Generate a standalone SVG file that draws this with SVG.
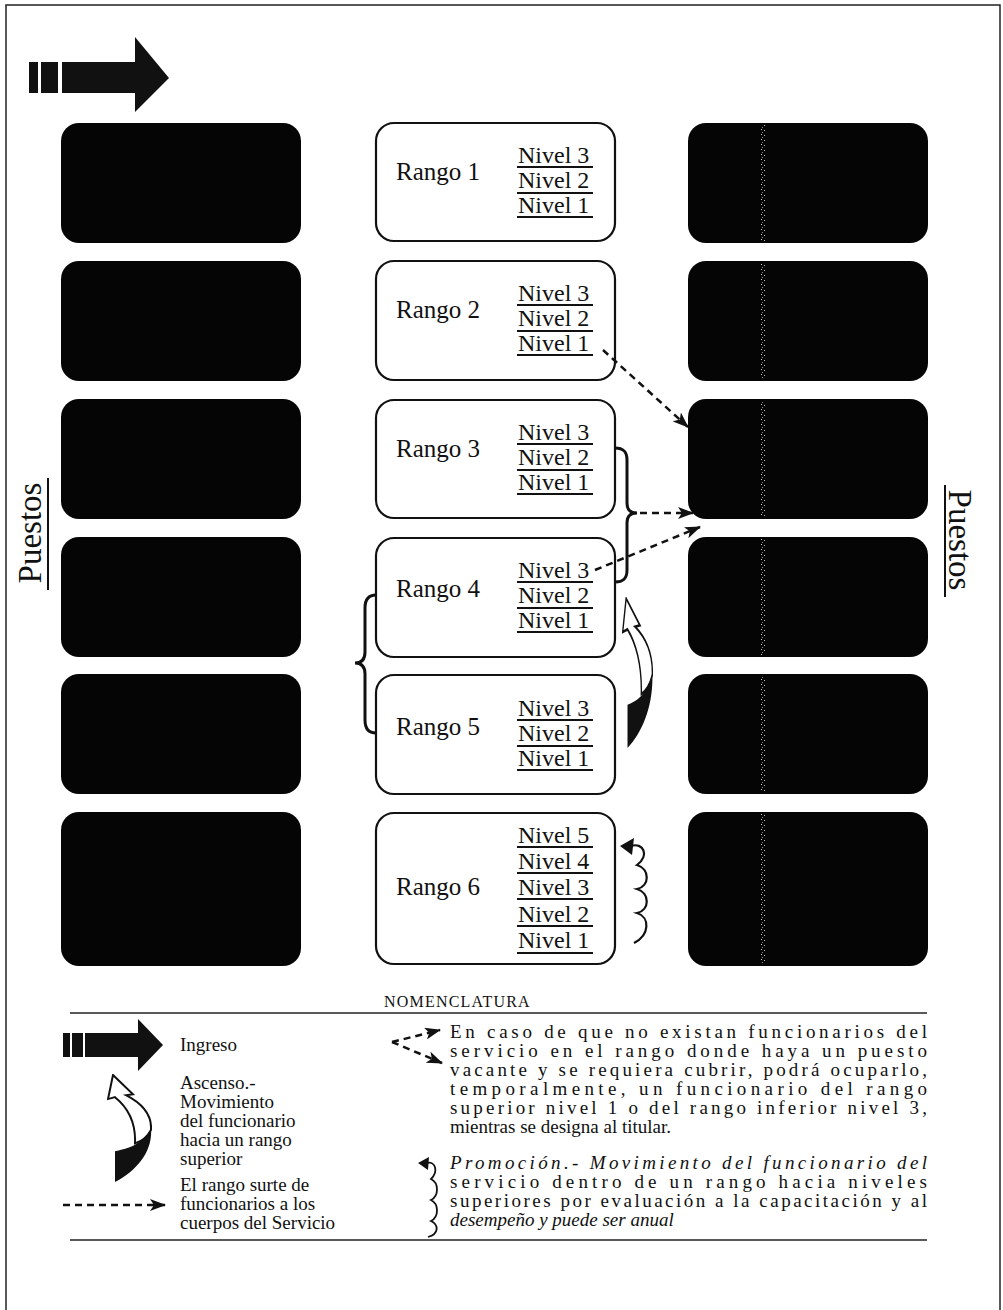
<svg xmlns="http://www.w3.org/2000/svg" width="1003" height="1310" viewBox="0 0 1003 1310">
<defs>
<style>
.t{font-family:"Liberation Serif","Times New Roman",serif;fill:#111}
.rg{font-size:25px}
.nv{font-size:24px}
.lg{font-size:19px}
.ul{stroke:#111;stroke-width:2}
.wb{fill:#fff;stroke:#111;stroke-width:2.2}
.bb{fill:#050505}
.dash{fill:none;stroke:#111;stroke-width:2.5;stroke-dasharray:7 5}
.br{fill:none;stroke:#111;stroke-width:3}
</style>
<pattern id="grain" width="4" height="5" patternUnits="userSpaceOnUse">
<rect x="0" y="0" width="1" height="1" fill="#bbb"/><rect x="2" y="2" width="1" height="1" fill="#888"/><rect x="1" y="4" width="1" height="1" fill="#ccc"/>
</pattern>
<marker id="ah" markerWidth="16" markerHeight="12" refX="15" refY="6" orient="auto" markerUnits="userSpaceOnUse">
<path d="M0,0 L16,6 L0,12 L4,6 Z" fill="#111"/>
</marker>
<symbol id="asc" viewBox="0 0 45 112" preserveAspectRatio="none">
<path d="M6 1 L26 21 L19 22 C34 30 45 42 44 58 C40 66 34 70 28 72 C29 50 20 34 8 24 L1 26 Z" fill="#fff" stroke="#111" stroke-width="2"/>
<path d="M44 56 C46 80 30 100 8 112 L8 80 C18 78 26 75 30 72 C36 68 42 62 44 56 Z" fill="#111"/>
</symbol>
</defs>
<rect width="1003" height="1310" fill="#fff"/>
<path d="M6 1310 L6 5 L1000 5 L1000 1310" fill="none" stroke="#222" stroke-width="1.5"/>

<g id="ingreso-arrow">
<rect x="29" y="62" width="9" height="31" fill="#111"/>
<rect x="41" y="62" width="17" height="31" fill="#111"/>
<polygon points="62,62 135,62 135,37 169,78 135,112 135,93 62,93" fill="#111"/>
</g>

<g id="puestos-left">
<text class="t" x="0" y="0" font-size="33" text-anchor="middle" transform="translate(41,533) rotate(-90)">Puestos</text>
<line x1="48" y1="478" x2="48" y2="590" class="ul"/>
</g>
<g id="puestos-right">
<text class="t" x="0" y="0" font-size="33" text-anchor="middle" transform="translate(949,540) rotate(90)">Puestos</text>
<line x1="945" y1="485" x2="945" y2="597" class="ul"/>
</g>

<g id="left-1"><rect x="61" y="123" width="240" height="120" rx="18" class="bb"/></g>
<g id="left-2"><rect x="61" y="261" width="240" height="120" rx="18" class="bb"/></g>
<g id="left-3"><rect x="61" y="399" width="240" height="120" rx="18" class="bb"/></g>
<g id="left-4"><rect x="61" y="537" width="240" height="120" rx="18" class="bb"/></g>
<g id="left-5"><rect x="61" y="674" width="240" height="120" rx="18" class="bb"/></g>
<g id="left-6"><rect x="61" y="812" width="240" height="154" rx="18" class="bb"/></g>

<g id="right-1"><rect x="688" y="123" width="240" height="120" rx="18" class="bb"/><rect x="761" y="125" width="4" height="116" fill="url(#grain)"/></g>
<g id="right-2"><rect x="688" y="261" width="240" height="120" rx="18" class="bb"/><rect x="761" y="263" width="4" height="116" fill="url(#grain)"/></g>
<g id="right-3"><rect x="688" y="399" width="240" height="120" rx="18" class="bb"/><rect x="761" y="401" width="4" height="116" fill="url(#grain)"/></g>
<g id="right-4"><rect x="688" y="537" width="240" height="120" rx="18" class="bb"/><rect x="761" y="539" width="4" height="116" fill="url(#grain)"/></g>
<g id="right-5"><rect x="688" y="674" width="240" height="120" rx="18" class="bb"/><rect x="761" y="676" width="4" height="116" fill="url(#grain)"/></g>
<g id="right-6"><rect x="688" y="812" width="240" height="154" rx="18" class="bb"/><rect x="761" y="814" width="4" height="150" fill="url(#grain)"/></g>

<g id="rango-1">
<rect x="376" y="123" width="239" height="118" rx="18" class="wb"/>
<text class="t rg" x="396" y="180">Rango 1</text>
<text class="t nv" x="518" y="163">Nivel 3</text><line x1="517" y1="167" x2="593" y2="167" class="ul"/>
<text class="t nv" x="518" y="188">Nivel 2</text><line x1="517" y1="193" x2="593" y2="193" class="ul"/>
<text class="t nv" x="518" y="213">Nivel 1</text><line x1="517" y1="217" x2="593" y2="217" class="ul"/>
</g>
<g id="rango-2">
<rect x="376" y="261" width="239" height="119" rx="18" class="wb"/>
<text class="t rg" x="396" y="318">Rango 2</text>
<text class="t nv" x="518" y="301">Nivel 3</text><line x1="517" y1="305" x2="593" y2="305" class="ul"/>
<text class="t nv" x="518" y="326">Nivel 2</text><line x1="517" y1="331" x2="593" y2="331" class="ul"/>
<text class="t nv" x="518" y="351">Nivel 1</text><line x1="517" y1="355" x2="593" y2="355" class="ul"/>
</g>
<g id="rango-3">
<rect x="376" y="400" width="239" height="118" rx="18" class="wb"/>
<text class="t rg" x="396" y="457">Rango 3</text>
<text class="t nv" x="518" y="440">Nivel 3</text><line x1="517" y1="444" x2="593" y2="444" class="ul"/>
<text class="t nv" x="518" y="465">Nivel 2</text><line x1="517" y1="470" x2="593" y2="470" class="ul"/>
<text class="t nv" x="518" y="490">Nivel 1</text><line x1="517" y1="494" x2="593" y2="494" class="ul"/>
</g>
<g id="rango-4">
<rect x="376" y="538" width="239" height="119" rx="18" class="wb"/>
<text class="t rg" x="396" y="597">Rango 4</text>
<text class="t nv" x="518" y="578">Nivel 3</text><line x1="517" y1="582" x2="593" y2="582" class="ul"/>
<text class="t nv" x="518" y="603">Nivel 2</text><line x1="517" y1="608" x2="593" y2="608" class="ul"/>
<text class="t nv" x="518" y="628">Nivel 1</text><line x1="517" y1="632" x2="593" y2="632" class="ul"/>
</g>
<g id="rango-5">
<rect x="376" y="675" width="239" height="119" rx="18" class="wb"/>
<text class="t rg" x="396" y="735">Rango 5</text>
<text class="t nv" x="518" y="716">Nivel 3</text><line x1="517" y1="720" x2="593" y2="720" class="ul"/>
<text class="t nv" x="518" y="741">Nivel 2</text><line x1="517" y1="746" x2="593" y2="746" class="ul"/>
<text class="t nv" x="518" y="766">Nivel 1</text><line x1="517" y1="770" x2="593" y2="770" class="ul"/>
</g>
<g id="rango-6">
<rect x="376" y="813" width="239" height="151" rx="18" class="wb"/>
<text class="t rg" x="396" y="895">Rango 6</text>
<text class="t nv" x="518" y="843">Nivel 5</text><line x1="517" y1="847" x2="593" y2="847" class="ul"/>
<text class="t nv" x="518" y="869">Nivel 4</text><line x1="517" y1="873" x2="593" y2="873" class="ul"/>
<text class="t nv" x="518" y="895">Nivel 3</text><line x1="517" y1="899" x2="593" y2="899" class="ul"/>
<text class="t nv" x="518" y="922">Nivel 2</text><line x1="517" y1="926" x2="593" y2="926" class="ul"/>
<text class="t nv" x="518" y="948">Nivel 1</text><line x1="517" y1="953" x2="593" y2="953" class="ul"/>
</g>

<g id="connectors">
<line x1="603" y1="350" x2="688" y2="427" class="dash" marker-end="url(#ah)"/>
<line x1="640" y1="513" x2="693" y2="513" class="dash" marker-end="url(#ah)"/>
<line x1="595" y1="570" x2="700" y2="527" class="dash" marker-end="url(#ah)"/>
<path class="br" d="M615 448 C624 448 627 452 627 460 L627 503 C627 510 630 513 637 513 C630 513 627 516 627 523 L627 570 C627 578 624 582 615 582"/>
<path class="br" d="M376 595 C368 595 365 600 365 608 L365 652 C365 659 362 663 355 663 C362 663 365 667 365 674 L365 720 C365 728 368 733 376 733"/>
<use href="#asc" x="622" y="597" width="31" height="151"/>
<polygon points="620,846 634,838 632,855" fill="#111"/>
<path d="M631 846 C643 842 650 855 637 865 C650 869 650 886 637 889 C650 893 650 910 637 913 C650 917 650 935 634 943" fill="none" stroke="#111" stroke-width="2.2"/>
</g>

<g id="legend">
<text class="t" x="384" y="1007" font-size="16" letter-spacing="1.2">NOMENCLATURA</text>
<line x1="70" y1="1013" x2="927" y2="1013" stroke="#222" stroke-width="1.5"/>
<rect x="63" y="1033" width="7" height="24" fill="#111"/>
<rect x="72" y="1033" width="11" height="24" fill="#111"/>
<polygon points="85,1033 138,1033 138,1019 163,1045 138,1071 138,1057 85,1057" fill="#111"/>
<text class="t lg" x="180" y="1051">Ingreso</text>
<use href="#asc" x="107" y="1074" width="45" height="108"/>
<text class="t lg" x="180" y="1089">Ascenso.-</text>
<text class="t lg" x="180" y="1108">Movimiento</text>
<text class="t lg" x="180" y="1127">del funcionario</text>
<text class="t lg" x="180" y="1146">hacia un rango</text>
<text class="t lg" x="180" y="1165">superior</text>
<line x1="63" y1="1205" x2="165" y2="1205" class="dash" stroke-width="2" marker-end="url(#ah)"/>
<text class="t lg" x="180" y="1191">El rango surte de</text>
<text class="t lg" x="180" y="1210">funcionarios a los</text>
<text class="t lg" x="180" y="1229">cuerpos del Servicio</text>
<path d="M392 1042 L440 1030" class="dash" stroke-width="2" marker-end="url(#ah)"/>
<path d="M392 1042 L442 1063" class="dash" stroke-width="2" marker-end="url(#ah)"/>
<text class="t lg" x="450" y="1038" textLength="477" lengthAdjust="spacing">En caso de que no existan funcionarios del</text>
<text class="t lg" x="450" y="1057" textLength="477" lengthAdjust="spacing">servicio en el rango donde haya un puesto</text>
<text class="t lg" x="450" y="1076" textLength="477" lengthAdjust="spacing">vacante y se requiera cubrir, podrá ocuparlo,</text>
<text class="t lg" x="450" y="1095" textLength="477" lengthAdjust="spacing">temporalmente, un funcionario del rango</text>
<text class="t lg" x="450" y="1114" textLength="477" lengthAdjust="spacing">superior nivel 1 o del rango inferior nivel 3,</text>
<text class="t lg" x="450" y="1133">mientras se designa al titular.</text>
<polygon points="418,1163 429,1157 428,1170" fill="#111"/>
<path d="M427 1163 C435 1161 439 1171 431 1179 C439 1183 439 1196 431 1200 C439 1204 439 1217 431 1221 C439 1225 439 1234 428 1237" fill="none" stroke="#111" stroke-width="1.8"/>
<text class="t lg" x="450" y="1169" font-style="italic" textLength="477" lengthAdjust="spacing">Promoción.- Movimiento del funcionario del</text>
<text class="t lg" x="450" y="1188" textLength="477" lengthAdjust="spacing">servicio dentro de un rango  hacia niveles</text>
<text class="t lg" x="450" y="1207" textLength="477" lengthAdjust="spacing">superiores por evaluación a la capacitación y al</text>
<text class="t lg" x="450" y="1226" font-style="italic">desempeño y puede ser anual</text>
<line x1="70" y1="1240" x2="927" y2="1240" stroke="#222" stroke-width="1.5"/>
</g>
</svg>
